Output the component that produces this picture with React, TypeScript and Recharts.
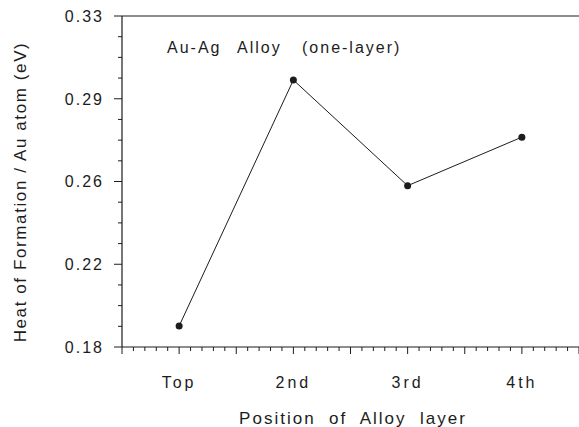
import { LineChart, Line, XAxis, YAxis, ReferenceLine } from 'recharts'

// ─── Data ─────────────────────────────────────────────────────────────────────
const LAYERS = ['Top', '2nd', '3rd', '4th']
const HEAT = [0.1895, 0.301, 0.2531, 0.2751]          // eV per Au atom
const Y_MAJOR = [0.18, 0.2175, 0.255, 0.2925, 0.33]
const Y_LABELS = ['0.18', '0.22', '0.26', '0.29', '0.33']

// ─── Style ────────────────────────────────────────────────────────────────────
const INK = '#1c1c1c'
const FONT = '"Liberation Sans", Arial, Helvetica, sans-serif'

const data = LAYERS.map((name, i) => ({ name, pos: i + 1, heat: HEAT[i] }))

// minor ticks: 4 subdivisions per major on y, 5 per half-step on x
const yTicks: number[] = [Y_MAJOR[0]]
for (let i = 1; i < Y_MAJOR.length; i++) {
  const a = Y_MAJOR[i - 1], b = Y_MAJOR[i]
  for (let k = 1; k < 4; k++) yTicks.push(a + ((b - a) * k) / 4)
  yTicks.push(b)
}
const xTicks: number[] = []
for (let k = 5; k <= 45; k++) xTicks.push(k / 10)

function YTick({ x, y, payload }: { x: number; y: number; payload: { value: number } }) {
  const idx = Y_MAJOR.findIndex(v => Math.abs(v - payload.value) < 1e-6)
  const major = idx >= 0
  return (
    <g>
      <line x1={x} x2={x - (major ? 8 : 4)} y1={y} y2={y} stroke={INK} strokeWidth={1} />
      {major && (
        <text x={x - 18} y={y} dy="0.36em" textAnchor="end" fill={INK}
          fontFamily={FONT} fontSize={16} letterSpacing={2}>
          {Y_LABELS[idx]}
        </text>
      )}
    </g>
  )
}

function XTick({ x, y, payload }: { x: number; y: number; payload: { value: number } }) {
  const k = Math.round(payload.value * 10)
  const major = k % 5 === 0
  const label = k % 10 === 0 ? LAYERS[k / 10 - 1] : null
  return (
    <g>
      <line x1={x} x2={x} y1={y} y2={y + (major ? 7 : 4)} stroke={INK} strokeWidth={1} />
      {label && (
        <text x={x} y={y + 41} textAnchor="middle" fill={INK}
          fontFamily={FONT} fontSize={16} letterSpacing={3}>
          {label}
        </text>
      )}
    </g>
  )
}

export default function App() {
  return (
    <div style={{ position: 'relative', width: 579, height: 427, background: '#fff' }}>
      <style>{'body{margin:0}'}</style>
      <LineChart width={579} height={427} data={data} margin={{ top: 16, right: 0, bottom: 0, left: 0 }}>
        <XAxis type="number" dataKey="pos" domain={[0.5, 4.5]} ticks={xTicks} interval={0}
          tickSize={0} tickMargin={0} tick={XTick as never} height={80}
          axisLine={{ stroke: INK, strokeWidth: 1.2 }} />
        <YAxis type="number" domain={[0.18, 0.33]} ticks={yTicks} interval={0} allowDataOverflow
          tickSize={0} tickMargin={0} tick={YTick as never} width={122}
          axisLine={{ stroke: INK, strokeWidth: 1.2 }} />
        <ReferenceLine y={0.33} stroke={INK} strokeWidth={1.2} />
        <Line type="linear" dataKey="heat" stroke={INK} strokeWidth={1}
          dot={{ r: 3.5, fill: INK, stroke: INK, strokeWidth: 0 }}
          isAnimationActive={false} />
      </LineChart>
      <svg width={579} height={427} style={{ position: 'absolute', left: 0, top: 0, pointerEvents: 'none' }}>
        <text y={53} fill={INK} fontFamily={FONT} fontSize={16} letterSpacing={2}>
          <tspan x={167}>Au-Ag</tspan>
          <tspan x={237}>Alloy</tspan>
          <tspan x={302}>(one-layer)</tspan>
        </text>
        <text x={353} y={424} textAnchor="middle" fill={INK} fontFamily={FONT} fontSize={17}
          letterSpacing={2} style={{ whiteSpace: 'pre' }}>
          {'Position  of  Alloy  layer'}
        </text>
        <text transform="translate(26,192) rotate(-90)" textAnchor="middle" fill={INK}
          fontFamily={FONT} fontSize={17} letterSpacing={1.6}>
          Heat of Formation / Au atom (eV)
        </text>
      </svg>
    </div>
  )
}
